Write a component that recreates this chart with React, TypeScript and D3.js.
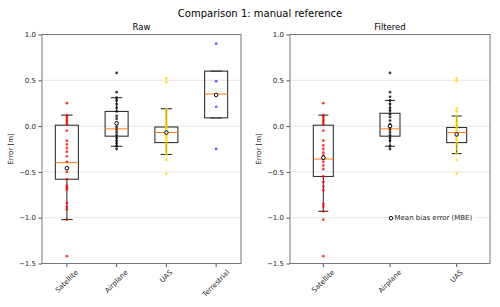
import React, { useEffect, useRef } from "react";
import * as d3 from "d3";

// categories
const rawCategories = ["Satellite", "Airplane", "UAS", "Terrestrial"];
const filteredCategories = ["Satellite", "Airplane", "UAS"];
const pointColors = ["#ff0000", "#000000", "#ffd700", "#0000ff"];
const yTicks = [1.0, 0.5, 0.0, -0.5, -1.0, -1.5];

// individual errors, raw
const rawSatellite = [0.25, 0.12, 0.1, 0.07, 0.05, 0.02, -0.05, -0.16, -0.2, -0.24, -0.28, -0.33, -0.39, -0.46, -0.5, -0.58, -0.65, -0.67, -0.69, -0.84, -0.88, -0.91, -1.02, -1.42];
const rawAirplane = [0.58, 0.37, 0.31, 0.28, 0.24, 0.2, 0.16, 0.11, 0.08, 0.04, 0.02, -0.01, -0.04, -0.07, -0.1, -0.13, -0.16, -0.19, -0.22, -0.25];
const rawUAS = [0.52, 0.48, 0.19, 0.16, 0.13, 0.1, 0.07, 0.04, 0.02, 0.0, -0.02, -0.04, -0.06, -0.08, -0.1, -0.12, -0.14, -0.16, -0.19, -0.22, -0.25, -0.28, -0.31, -0.37, -0.52];
const rawTerrestrial = [0.9, 0.49, 0.21, -0.25];

// individual errors, filtered
const filtSatellite = [0.25, 0.12, 0.1, 0.07, 0.05, 0.02, -0.05, -0.16, -0.21, -0.25, -0.29, -0.32, -0.36, -0.39, -0.43, -0.47, -0.55, -0.61, -0.66, -0.7, -0.85, -0.88, -0.93, -1.02, -1.42];
const filtAirplane = [0.58, 0.37, 0.32, 0.28, 0.24, 0.2, 0.17, 0.13, 0.1, 0.06, 0.02, -0.01, -0.04, -0.07, -0.1, -0.13, -0.16, -0.22, -0.25];
const filtUAS = [0.52, 0.49, 0.19, 0.16, 0.11, 0.08, 0.05, 0.03, 0.01, -0.01, -0.03, -0.05, -0.07, -0.09, -0.11, -0.13, -0.15, -0.18, -0.21, -0.25, -0.3, -0.37, -0.52];

// box statistics
const rawQ1 = [-0.58, -0.11, -0.18, 0.09];
const rawMedian = [-0.4, -0.03, -0.07, 0.35];
const rawQ3 = [0.01, 0.16, -0.01, 0.6];
const rawWhiskerLow = [-1.02, -0.22, -0.31, 0.09];
const rawWhiskerHigh = [0.12, 0.31, 0.19, 0.6];
const rawMean = [-0.46, 0.03, -0.07, 0.34];

const filtQ1 = [-0.55, -0.11, -0.18];
const filtMedian = [-0.36, -0.03, -0.07];
const filtQ3 = [0.01, 0.14, -0.015];
const filtWhiskerLow = [-0.93, -0.22, -0.3];
const filtWhiskerHigh = [0.12, 0.28, 0.11];
const filtMean = [-0.345, 0.0, -0.09];

const FONT = "DejaVu Sans, sans-serif";

type Panel = {
  title: string;
  left: number;
  right: number;
  cats: string[];
  points: number[][];
  q1: number[];
  med: number[];
  q3: number[];
  wlo: number[];
  whi: number[];
  mean: number[];
  boxW: number;
  legend: boolean;
};

const App = () => {
  const svgRef = useRef<SVGSVGElement>(null);

  useEffect(() => {
    const svg = d3.select(svgRef.current);
    svg.selectAll("*").remove();

    const top = 34.5;
    const bottom = 263.5;

    svg
      .append("text")
      .attr("x", 260)
      .attr("y", 17)
      .attr("text-anchor", "middle")
      .attr("font-family", FONT)
      .attr("font-size", 10)
      .attr("fill", "#000")
      .text("Comparison 1: manual reference");

    const panels: Panel[] = [
      {
        title: "Raw", left: 42, right: 241, cats: rawCategories,
        points: [rawSatellite, rawAirplane, rawUAS, rawTerrestrial],
        q1: rawQ1, med: rawMedian, q3: rawQ3, wlo: rawWhiskerLow, whi: rawWhiskerHigh, mean: rawMean,
        boxW: 23, legend: false,
      },
      {
        title: "Filtered", left: 290, right: 490, cats: filteredCategories,
        points: [filtSatellite, filtAirplane, filtUAS],
        q1: filtQ1, med: filtMedian, q3: filtQ3, wlo: filtWhiskerLow, whi: filtWhiskerHigh, mean: filtMean,
        boxW: 20, legend: true,
      },
    ];

    panels.forEach((p) => {
      const x = d3.scaleBand().domain(p.cats).range([p.left, p.right]);
      const y = d3.scaleLinear().domain([-1.5, 1.0]).range([bottom, top]);
      const g = svg.append("g");

      // grid
      g.selectAll(".grid")
        .data(yTicks)
        .join("line")
        .attr("x1", p.left)
        .attr("x2", p.right)
        .attr("y1", (d) => y(d))
        .attr("y2", (d) => y(d))
        .attr("stroke", "#e6e6e6")
        .attr("stroke-width", 1);

      // y axis
      const yAxis = d3.axisLeft(y).tickValues(yTicks).tickSize(3.5).tickPadding(2.5)
        .tickFormat((d) => d3.format(".1f")(d as number).replace("-", "\u2212"));
      const ya = g.append("g").attr("transform", `translate(${p.left},0)`).call(yAxis);
      ya.select(".domain").remove();
      ya.selectAll("line").attr("stroke", "#555");
      ya.selectAll("text").attr("font-family", FONT).attr("font-size", 7).attr("fill", "#222");

      // x axis
      const xa = g.append("g").attr("transform", `translate(0,${bottom})`)
        .call(d3.axisBottom(x).tickSize(3.5).tickFormat(() => ""));
      xa.select(".domain").remove();
      xa.selectAll("line").attr("stroke", "#555");

      p.cats.forEach((c) => {
        const cx = x(c)! + x.bandwidth() / 2;
        const t = g.append("text")
          .attr("font-family", FONT)
          .attr("font-size", 7)
          .attr("fill", "#222")
          .attr("text-anchor", "middle")
          .attr("dominant-baseline", "central")
          .text(c);
        const len = (t.node() as SVGTextElement).getComputedTextLength();
        const half = ((len + 8) * Math.SQRT1_2) / 2;
        t.attr("transform", `translate(${cx},${bottom + 5 + half}) rotate(-45)`);
      });

      // y label
      g.append("text")
        .attr("transform", `translate(${p.left - 29},${(top + bottom) / 2}) rotate(-90)`)
        .attr("text-anchor", "middle")
        .attr("font-family", FONT)
        .attr("font-size", 7)
        .attr("fill", "#222")
        .text("Error [m]");

      // panel title
      g.append("text")
        .attr("x", (p.left + p.right) / 2)
        .attr("y", top - 5)
        .attr("text-anchor", "middle")
        .attr("font-family", FONT)
        .attr("font-size", 8.5)
        .attr("fill", "#000")
        .text(p.title);

      // boxes
      p.cats.forEach((c, i) => {
        const cx = x(c)! + x.bandwidth() / 2;
        const bw = p.boxW;
        const stroke = "#333";
        g.append("line").attr("x1", cx).attr("x2", cx)
          .attr("y1", y(p.q3[i])).attr("y2", y(p.whi[i])).attr("stroke", stroke).attr("stroke-width", 1.1);
        g.append("line").attr("x1", cx).attr("x2", cx)
          .attr("y1", y(p.q1[i])).attr("y2", y(p.wlo[i])).attr("stroke", stroke).attr("stroke-width", 1.1);
        [p.whi[i], p.wlo[i]].forEach((v) => {
          g.append("line").attr("x1", cx - bw / 4).attr("x2", cx + bw / 4)
            .attr("y1", y(v)).attr("y2", y(v)).attr("stroke", stroke).attr("stroke-width", 1.1);
        });
        g.append("rect")
          .attr("x", cx - bw / 2)
          .attr("y", y(p.q3[i]))
          .attr("width", bw)
          .attr("height", y(p.q1[i]) - y(p.q3[i]))
          .attr("fill", "none")
          .attr("stroke", stroke)
          .attr("stroke-width", 1.1);
        g.append("line").attr("x1", cx - bw / 2).attr("x2", cx + bw / 2)
          .attr("y1", y(p.med[i])).attr("y2", y(p.med[i])).attr("stroke", "#ff7f0e").attr("stroke-width", 1);

        // points
        g.selectAll(`.pt${i}`)
          .data(p.points[i])
          .join("circle")
          .attr("cx", cx)
          .attr("cy", (d) => y(d))
          .attr("r", 1.4)
          .attr("fill", pointColors[i])
          .attr("opacity", i === 3 ? 0.6 : 0.75);

        // mean marker
        g.append("circle")
          .attr("cx", cx)
          .attr("cy", y(p.mean[i]))
          .attr("r", 1.8)
          .attr("fill", "#fff")
          .attr("stroke", "#000")
          .attr("stroke-width", 1);
      });

      // frame
      g.append("rect")
        .attr("x", p.left)
        .attr("y", top)
        .attr("width", p.right - p.left)
        .attr("height", bottom - top)
        .attr("fill", "none")
        .attr("stroke", "#777")
        .attr("stroke-width", 1);

      if (p.legend) {
        const ly = y(-1.0);
        g.append("rect").attr("x", 388).attr("y", ly - 5).attr("width", 88).attr("height", 10).attr("fill", "#fff");
        g.append("circle").attr("cx", 391).attr("cy", ly + 0.5).attr("r", 1.8)
          .attr("fill", "#fff").attr("stroke", "#000").attr("stroke-width", 1);
        g.append("text")
          .attr("x", 394.5)
          .attr("y", ly + 0.5)
          .attr("dominant-baseline", "central")
          .attr("font-family", FONT)
          .attr("font-size", 7)
          .attr("fill", "#222")
          .text("Mean bias error (MBE)");
      }
    });
  }, []);

  return (
    <div style={{ position: "absolute", left: 0, top: 0, background: "#fff" }}>
      <svg ref={svgRef} width={500} height={307} style={{ display: "block" }}></svg>
    </div>
  );
};

export default App;
